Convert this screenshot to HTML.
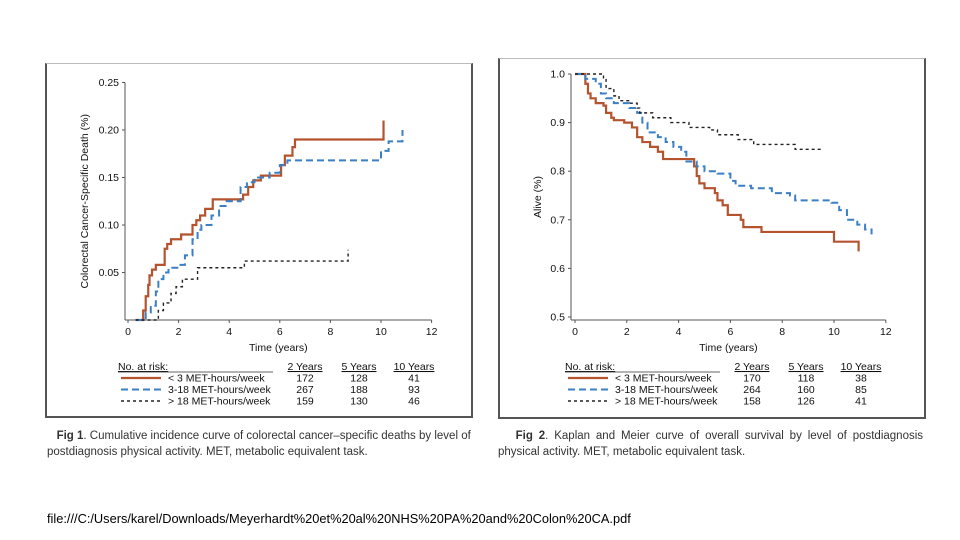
<!DOCTYPE html>
<html><head><meta charset="utf-8"><style>
body{margin:0;width:960px;height:540px;background:#fff;font-family:"Liberation Sans",sans-serif;overflow:hidden;position:relative}
.box{position:absolute;border:2px solid #555;border-top:1px solid #bbb;background:#fff}
.cap{position:absolute;font-size:11.5px;color:#333;line-height:16px}
.foot{position:absolute;left:47px;top:511px;font-size:12.8px;color:#000}
</style></head><body>
<div class="box" style="left:45px;top:63px;width:424px;height:352px"></div>
<div class="box" style="left:498px;top:58px;width:424px;height:358px"></div>
<svg id="svg" width="960" height="540" style="position:absolute;left:0;top:0"></svg>
<div class="cap" style="left:47px;top:428px;width:425px"><b>&nbsp;&nbsp;&nbsp;Fig 1</b>. Cumulative incidence curve of colorectal cancer–specific deaths by level of postdiagnosis physical activity. MET, metabolic equivalent task.</div>
<div class="cap" style="left:498px;top:428px;width:425px;text-align:justify"><b>&nbsp;&nbsp;&nbsp;Fig 2</b>. Kaplan and Meier curve of overall survival by level of postdiagnosis physical activity. MET, metabolic equivalent task.</div>
<div class="foot">file:///C:/Users/karel/Downloads/Meyerhardt%20et%20al%20NHS%20PA%20and%20Colon%20CA.pdf</div>
<script>
const xTicks=[0,2,4,6,8,10,12];
const y1Ticks=[0.05,0.10,0.15,0.20,0.25];
const y2Ticks=[0.5,0.6,0.7,0.8,0.9,1.0];
const seriesLabels=["< 3 MET-hours/week","3-18 MET-hours/week","> 18 MET-hours/week"];
const riskYears=["2 Years","5 Years","10 Years"];
const risk1=[[172,128,41],[267,188,93],[159,130,46]];
const risk2=[[170,118,38],[264,160,85],[158,126,41]];
// Fig 1 series
const f1RedT=[0.3,0.6,0.7,0.8,0.85,0.95,1.1,1.45,1.55,1.7,2.1,2.55,2.7,2.85,3.05,3.35,4.55,4.75,4.95,5.25,6.05,6.2,6.5,6.6,10.1];
const f1RedV=[0,0.01,0.025,0.037,0.047,0.053,0.058,0.075,0.08,0.085,0.09,0.1,0.105,0.11,0.117,0.127,0.132,0.14,0.147,0.152,0.163,0.173,0.182,0.19,0.21];
const f1BlueT=[0.3,0.7,0.9,1.1,1.2,1.4,1.6,2.0,2.25,2.55,2.75,2.9,3.3,3.6,3.9,4.45,4.7,5.0,5.6,6.0,6.3,10.0,10.3,10.85];
const f1BlueV=[0,0.008,0.015,0.03,0.043,0.05,0.055,0.058,0.068,0.085,0.095,0.1,0.11,0.12,0.125,0.14,0.145,0.15,0.155,0.163,0.168,0.178,0.188,0.2];
const f1BlackT=[0.3,1.2,1.4,1.7,1.9,2.15,2.75,4.6,8.7];
const f1BlackV=[0,0.01,0.018,0.028,0.035,0.043,0.055,0.062,0.074];
// Fig 2 series
const f2RedT=[0,0.4,0.5,0.6,0.8,1.1,1.2,1.4,1.5,1.9,2.2,2.4,2.6,2.9,3.2,3.4,4.6,4.7,4.8,5.0,5.4,5.5,5.7,5.9,6.4,6.5,7.2,10.0,10.95];
const f2RedV=[1.0,0.98,0.96,0.95,0.94,0.935,0.92,0.91,0.905,0.9,0.89,0.87,0.86,0.85,0.84,0.825,0.81,0.79,0.775,0.765,0.755,0.74,0.73,0.71,0.7,0.685,0.675,0.655,0.635];
const f2BlueT=[0,0.4,0.8,1.0,1.2,1.5,2.1,2.4,2.6,2.8,3.2,3.5,3.8,4.1,4.3,4.7,5.0,5.5,6.0,6.2,6.8,7.6,8.3,8.5,9.9,10.2,10.5,10.9,11.2,11.45];
const f2BlueV=[1.0,0.99,0.98,0.96,0.95,0.94,0.93,0.92,0.9,0.88,0.87,0.86,0.85,0.84,0.82,0.81,0.8,0.795,0.78,0.77,0.765,0.755,0.75,0.74,0.735,0.72,0.7,0.69,0.68,0.67];
const f2BlackT=[0,1.1,1.2,1.5,1.7,2.1,2.4,2.5,3.0,3.7,4.4,5.2,5.5,6.3,6.9,8.5,9.6];
const f2BlackV=[1.0,0.99,0.97,0.955,0.945,0.94,0.93,0.92,0.91,0.9,0.89,0.885,0.875,0.865,0.855,0.845,0.845];

const svg=document.getElementById('svg');
const NS='http://www.w3.org/2000/svg';
function mk(tag,attrs,txt){const e=document.createElementNS(NS,tag);for(const k in attrs)e.setAttribute(k,attrs[k]);if(txt!==undefined)e.textContent=txt;svg.appendChild(e);return e;}
const styles=[{stroke:'#b5532f',dash:'',w:2.2},{stroke:'#3b7fc4',dash:'7,4',w:2},{stroke:'#222',dash:'3,3',w:1.4}];
const FS=10.5;
function chart(cfg){
  const X=t=>cfg.x0+t*cfg.xs, Y=v=>cfg.y0-(v-cfg.vmin)*cfg.ys;
  let e=mk('line',{x1:cfg.ax,y1:Y(cfg.vmax),x2:cfg.ax,y2:cfg.yb,stroke:'#555','stroke-width':1});
  
  
  e=mk('line',{x1:cfg.ax,y1:cfg.yb,x2:X(12),y2:cfg.yb,stroke:'#555','stroke-width':1});
  
  
  xTicks.forEach(t=>{
    mk('line',{x1:X(t),y1:cfg.yb,x2:X(t),y2:cfg.yb+3,stroke:'#555'});
    e=mk('text',{x:X(t),y:cfg.yb+15,'font-size':FS,'text-anchor':'middle',fill:'#111'},String(t));
    
    
  });
  cfg.yt.forEach(v=>{
    mk('line',{x1:cfg.ax-3,y1:Y(v),x2:cfg.ax,y2:Y(v),stroke:'#555'});
    e=mk('text',{x:cfg.ax-6,y:Y(v)+3.5,'font-size':FS,'text-anchor':'end',fill:'#111'},cfg.fmt(v));
    
    
  });
  e=mk('text',{x:(cfg.ax+X(12))/2,y:cfg.yb+31,'font-size':FS,'text-anchor':'middle',fill:'#111'},'Time (years)');
  
  
  const ty=(Y(cfg.vmax)+cfg.yb)/2;
  e=mk('text',{x:cfg.ytx,y:ty,'font-size':FS,'text-anchor':'middle',fill:'#111',transform:`rotate(-90 ${cfg.ytx} ${ty})`},cfg.ytitle);
  
  
  cfg.series.forEach((s,i)=>{
    const T=s[0],V=s[1];let d=`M${X(T[0])},${Y(V[0])}`;
    for(let k=1;k<T.length;k++){d+=`H${X(T[k])}V${Y(V[k])}`;}
    e=mk('path',{d:d,fill:'none',stroke:styles[i].stroke,'stroke-width':styles[i].w,'stroke-dasharray':styles[i].dash});
    
    
  });
  const tx=cfg.tx, ty0=cfg.ty;
  e=mk('text',{x:tx,y:ty0,'font-size':FS,fill:'#111','text-decoration':'underline'},'No. at risk:');
  
  
  mk('line',{x1:tx,y1:ty0+2,x2:tx+155,y2:ty0+2,stroke:'#333','stroke-width':0.8});
  const cols=[tx+187,tx+241,tx+296];
  riskYears.forEach((y,j)=>{
    e=mk('text',{x:cols[j],y:ty0,'font-size':FS,'text-anchor':'middle',fill:'#111','text-decoration':'underline'},y);
    
    
  });
  seriesLabels.forEach((lab,i)=>{
    const yy=ty0+11.5*(i+1);
    e=mk('line',{x1:tx+3,y1:yy-3.5,x2:tx+43,y2:yy-3.5,stroke:styles[i].stroke,'stroke-width':styles[i].w,'stroke-dasharray':styles[i].dash});
    
    
    e=mk('text',{x:tx+50,y:yy,'font-size':FS,fill:'#111'},lab);
    
    
    cfg.risk[i].forEach((n,j)=>{
      e=mk('text',{x:cols[j],y:yy,'font-size':FS,'text-anchor':'middle',fill:'#111'},String(n));
      
      
    });
  });
}
chart({id:'fig1',x0:128,xs:25.3,y0:320,vmin:0,vmax:0.25,ys:950,ax:125,yb:320,yt:y1Ticks,fmt:v=>v.toFixed(2),
  ytitle:'Colorectal Cancer-Specific Death (%)',ytx:88,tx:118,ty:370,risk:risk1,
  series:[[f1RedT,f1RedV],[f1BlueT,f1BlueV],[f1BlackT,f1BlackV]]});
chart({id:'fig2',x0:575,xs:25.9,y0:317,vmin:0.5,vmax:1.0,ys:486,ax:571,yb:320,yt:y2Ticks,fmt:v=>v.toFixed(1),
  ytitle:'Alive (%)',ytx:541,tx:565,ty:370,risk:risk2,
  series:[[f2RedT,f2RedV],[f2BlueT,f2BlueV],[f2BlackT,f2BlackV]]});
</script>
</body></html>
